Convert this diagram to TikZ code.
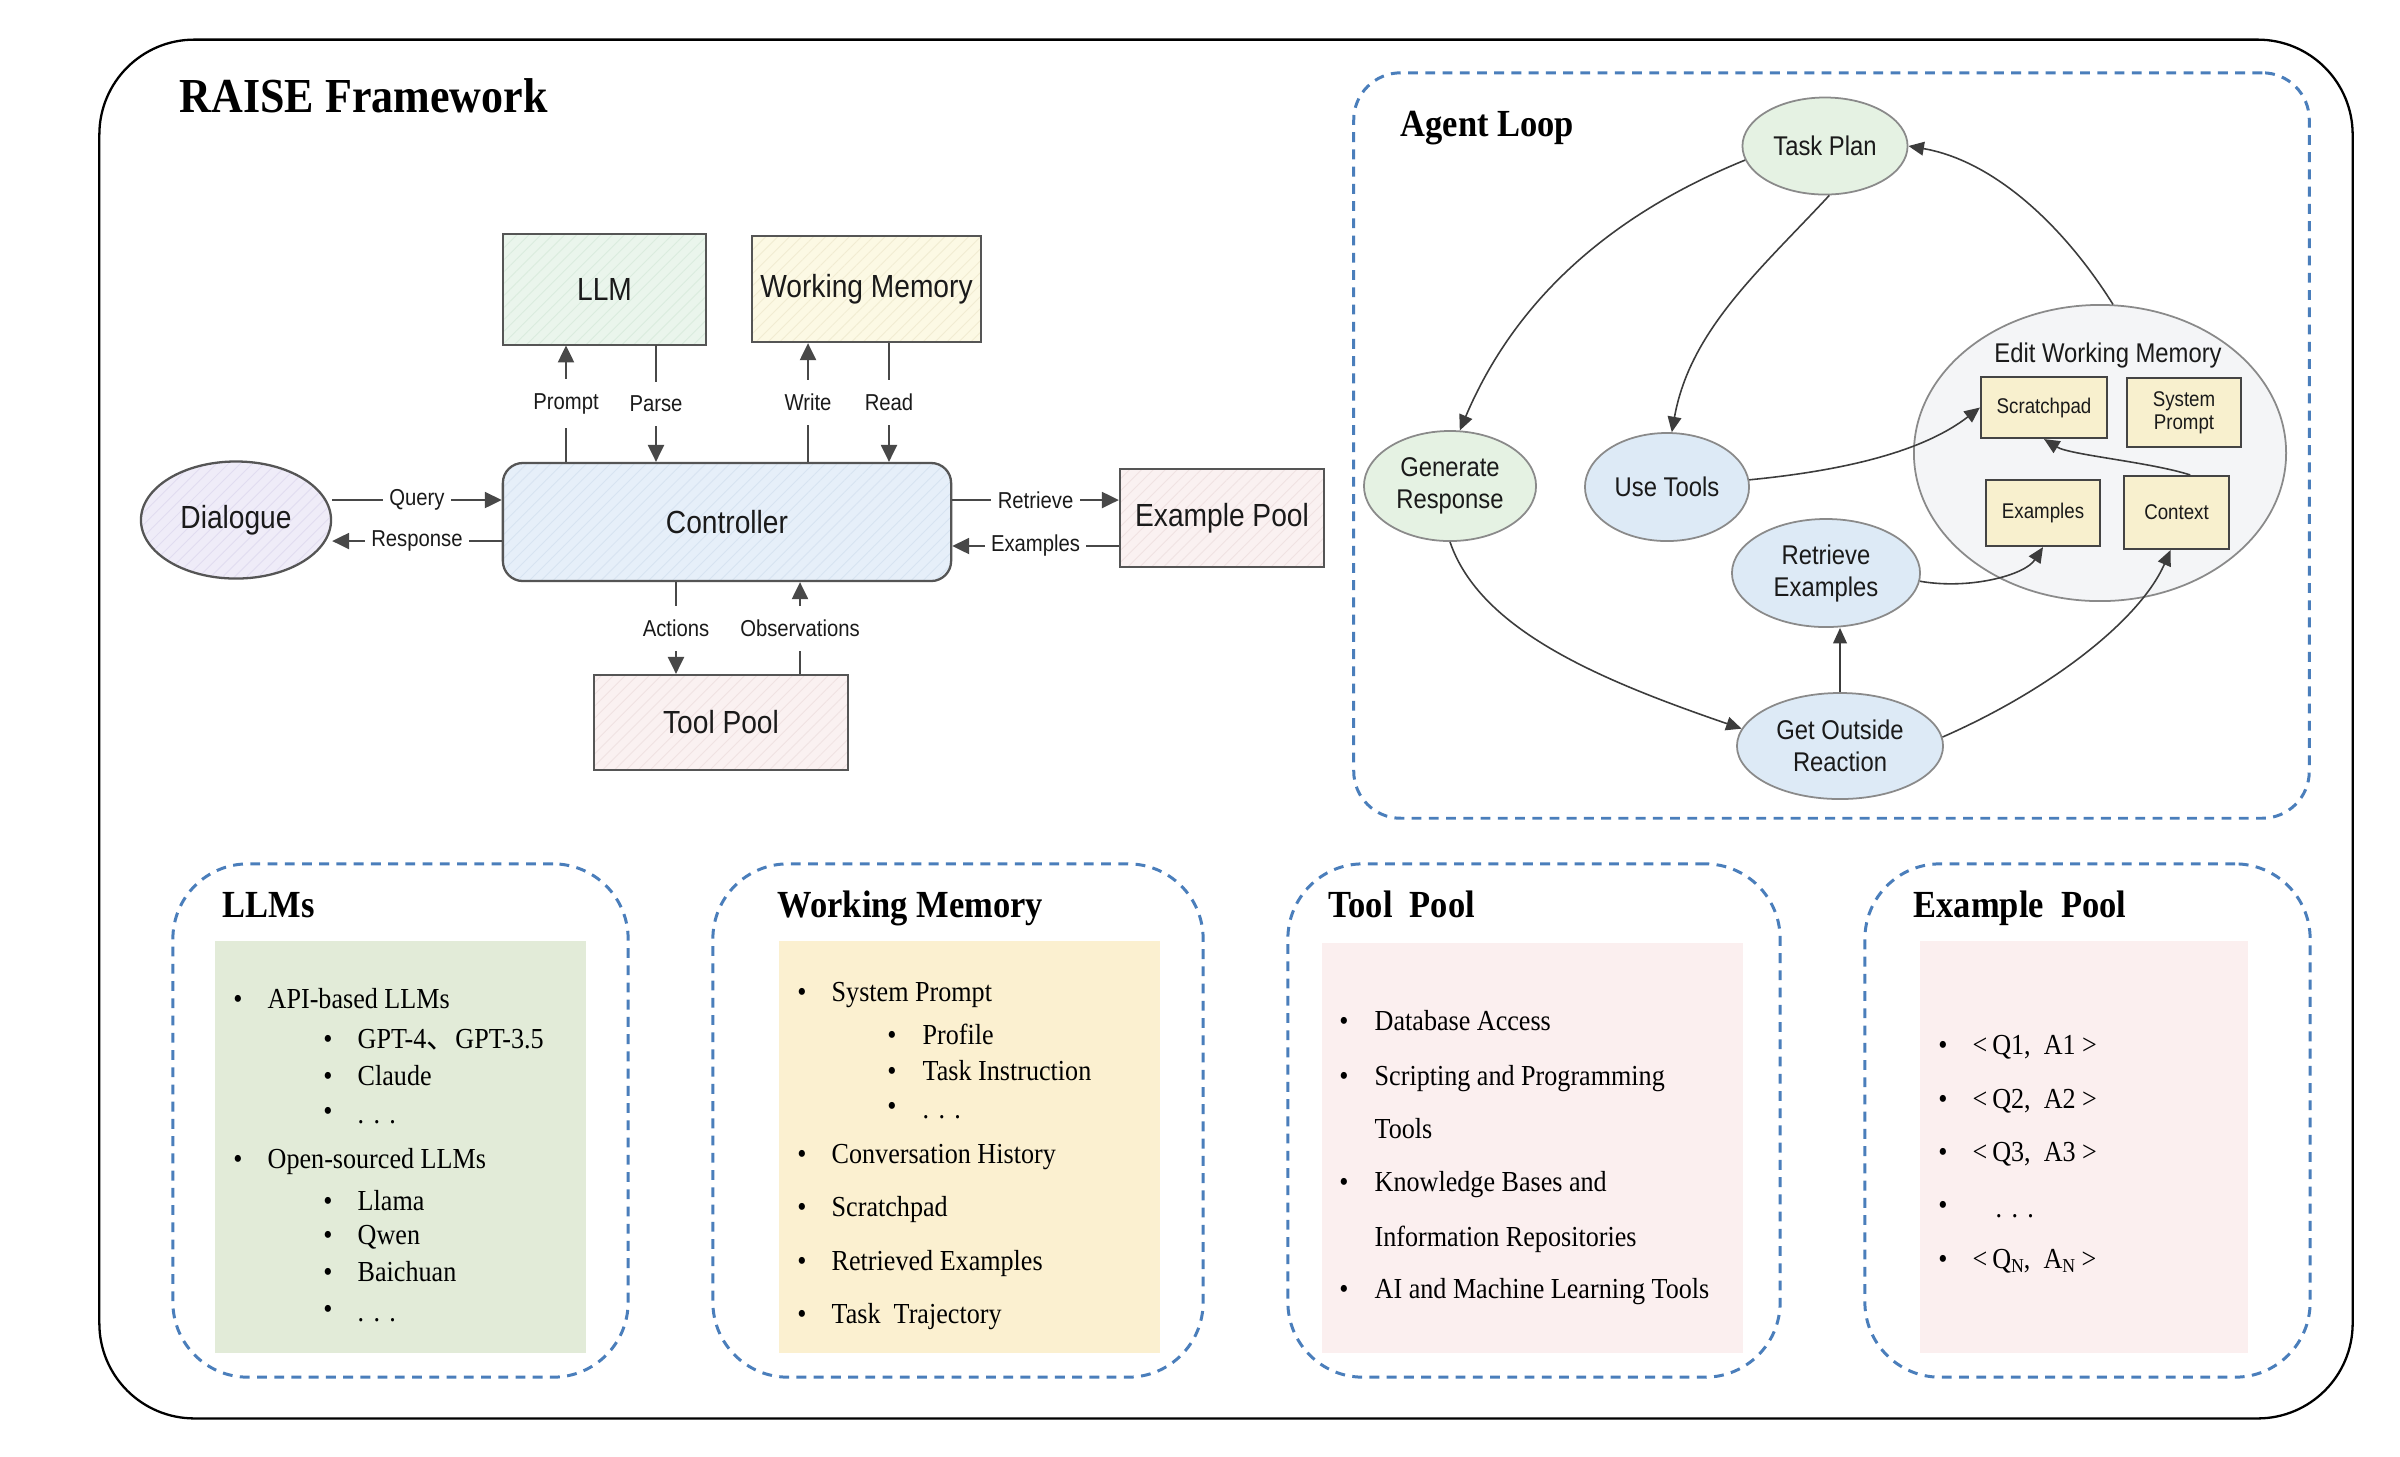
\documentclass[tikz,border=0pt]{standalone}
\usepackage{fontspec}
\setmainfont{Liberation Serif}[FakeStretch=0.9]
\newfontfamily\hv{Liberation Sans}[FakeStretch=0.88]
\newfontfamily\cjk{Noto Sans CJK SC}
\usetikzlibrary{arrows.meta,shapes.geometric,patterns.meta}

\definecolor{dashblue}{HTML}{4A7EBB}
\definecolor{pgreen}{HTML}{E2EBD8}
\definecolor{pyellow}{HTML}{FBF0D0}
\definecolor{ppink}{HTML}{FBEFEF}
\definecolor{llmf}{HTML}{EAF5EC}
\definecolor{llmh}{HTML}{DAECDE}
\definecolor{wmf}{HTML}{FCF9E4}
\definecolor{wmh}{HTML}{F1ECD2}
\definecolor{ctrlf}{HTML}{E6EFF9}
\definecolor{ctrlh}{HTML}{D7E3F1}
\definecolor{dlgf}{HTML}{EFECF8}
\definecolor{dlgh}{HTML}{E1DCF0}
\definecolor{epf}{HTML}{FAF1F1}
\definecolor{eph}{HTML}{F0E2E2}
\definecolor{boxline}{HTML}{555555}
\definecolor{txt}{HTML}{1A1A1A}
\definecolor{greenell}{HTML}{E5F2E3}
\definecolor{blueell}{HTML}{DDEAF6}
\definecolor{ewmf}{HTML}{F4F5F7}
\definecolor{innerf}{HTML}{F8F0CE}
\definecolor{ellline}{HTML}{8A8A8A}

\newcommand\setfs[2]{\fontsize{#1}{#2}\selectfont}
\newcommand\lowsub[1]{\raisebox{-0.35ex}{\fontsize{5.6}{6}\selectfont #1}}
\newcommand\dotsx{.\hspace{0.32em}.\hspace{0.32em}.}

\begin{document}
\begin{tikzpicture}[x=0.01cm,y=-0.01cm,
  mbox/.style 2 args={rectangle, draw=boxline, line width=0.65pt, preaction={fill=#1},
     pattern={Lines[angle=45,distance=2.4pt,line width=0.25pt]}, pattern color=#2,
     font=\hv\setfs{9.1}{11}, text=txt, inner sep=0pt},
  marr/.style={draw=txt!80, line width=0.4pt, -{Triangle[length=4.8pt,width=4.6pt]}},
  lab/.style={font=\hv\setfs{6.55}{8}, fill=white, inner xsep=1.8pt, inner ysep=4pt, text=txt},
  aell/.style={ellipse, draw=ellline, line width=0.5pt, font=\hv\setfs{7.7}{9.1}, align=center, text=txt, inner sep=0pt},
  ibox/.style={rectangle, draw=boxline!80!black, line width=0.6pt, fill=innerf, font=\hv\setfs{6.05}{6.6}, align=center, text=txt, inner sep=0pt},
  aarr/.style={draw=txt!85, line width=0.45pt, -{Triangle[length=4.4pt,width=3.9pt]}},
  panel/.style={rectangle, draw=dashblue, line width=0.85pt, dash pattern=on 2.8pt off 2.1pt, rounded corners=0.75cm, inner sep=0pt},
  pfill/.style={rectangle, inner sep=0pt, draw=none},
  ptitle/.style={font=\bfseries\setfs{10.9}{13}, anchor=base west, inner sep=0pt},
  body/.style={font=\setfs{8.25}{10}, anchor=base west, inner sep=0pt},
  bul/.style={font=\setfs{8.25}{10}, anchor=base, inner sep=0pt}
]
\useasboundingbox (0,0) rectangle (2400,1456);
\fill[white] (0,0) rectangle (2400,1456);

% outer frame
\node[rectangle, draw=black, line width=0.65pt, rounded corners=0.95cm, minimum width=22.52cm, minimum height=13.78cm, inner sep=0pt] (frame) at (1226,729) {};
\node[font=\bfseries\setfs{13.9}{16}, anchor=base west, inner sep=0pt] (title) at (179,112) {RAISE Framework};

% ---------- main diagram ----------
\node[mbox={llmf}{llmh}, minimum width=2.03cm, minimum height=1.11cm] (llm) at (604.5,289.5) {LLM};
\node[mbox={wmf}{wmh}, minimum width=2.29cm, minimum height=1.06cm] (wm) at (866.5,289) {Working Memory};
\node[mbox={dlgf}{dlgh}, ellipse, minimum width=1.90cm, minimum height=1.17cm] (dlg) at (236,520) {Dialogue};
\node[mbox={ctrlf}{ctrlh}, rounded corners=0.2cm, minimum width=4.48cm, minimum height=1.18cm] (ctrl) at (727,522) {Controller};
\node[mbox={epf}{eph}, minimum width=2.04cm, minimum height=0.98cm] (ep) at (1222,518) {Example Pool};
\node[mbox={epf}{eph}, minimum width=2.54cm, minimum height=0.95cm] (tool) at (721,722.5) {Tool Pool};

\coordinate (xP) at (566,0);
\coordinate (xPa) at (656,0);
\coordinate (xW) at (808,0);
\coordinate (xR) at (889,0);
\coordinate (xA) at (676,0);
\coordinate (xO) at (800,0);
\coordinate (yQ) at (0,500);
\coordinate (yRs) at (0,541);
\coordinate (yRt) at (0,500);
\coordinate (yEx) at (0,546);

\draw[marr] (ctrl.north -| xP) -- node[lab]{Prompt} (llm.south -| xP);
\draw[marr] (llm.south -| xPa) -- node[lab]{Parse} (ctrl.north -| xPa);
\draw[marr] (ctrl.north -| xW) -- node[lab]{Write} (wm.south -| xW);
\draw[marr] (wm.south -| xR) -- node[lab]{Read} (ctrl.north -| xR);
\draw[marr] (dlg.east |- yQ) -- node[lab]{Query} (ctrl.west |- yQ);
\draw[marr] (ctrl.west |- yRs) -- node[lab]{Response} (dlg.east |- yRs);
\draw[marr] (ctrl.east |- yRt) -- node[lab]{Retrieve} (ep.west |- yRt);
\draw[marr] (ep.west |- yEx) -- node[lab]{Examples} (ctrl.east |- yEx);
\draw[marr] (ctrl.south -| xA) -- node[lab]{Actions} (tool.north -| xA);
\draw[marr] (tool.north -| xO) -- node[lab]{Observations} (ctrl.south -| xO);

% ---------- agent loop ----------
\node[panel, rounded corners=0.47cm, minimum width=9.55cm, minimum height=7.45cm] (alp) at (1831.5,445.5) {};
\node[font=\bfseries\setfs{10.9}{13}, anchor=base west, inner sep=0pt] (altitle) at (1400,136) {Agent Loop};

\node[aell, fill=greenell, minimum width=1.65cm, minimum height=0.97cm] (tp) at (1825,146) {Task Plan};
\node[aell, fill=greenell, minimum width=1.72cm, minimum height=1.10cm] (gr) at (1450,486) {Generate\\Response};
\node[aell, fill=blueell, minimum width=1.64cm, minimum height=1.08cm] (ut) at (1667,487) {Use Tools};
\node[aell, fill=blueell, minimum width=1.88cm, minimum height=1.08cm] (re) at (1826,573) {Retrieve\\Examples};
\node[aell, fill=blueell, minimum width=2.06cm, minimum height=1.06cm] (go) at (1840,746) {Get Outside\\Reaction};
\node[ellipse, draw=ellline, fill=ewmf, line width=0.5pt, minimum width=3.72cm, minimum height=2.96cm, inner sep=0pt] (ewm) at (2100,453) {};
\node[font=\hv\setfs{7.7}{9}, text=txt, inner sep=0pt] (ewml) at (2108,355) {Edit Working Memory};
\node[ibox, minimum width=1.26cm, minimum height=0.61cm] (sp) at (2044,407.5) {Scratchpad};
\node[ibox, minimum width=1.14cm, minimum height=0.69cm] (sys) at (2184,412.5) {System\\Prompt};
\node[ibox, minimum width=1.14cm, minimum height=0.66cm] (ex) at (2043,513) {Examples};
\node[ibox, minimum width=1.05cm, minimum height=0.73cm] (ctx) at (2176.5,512.5) {Context};

\draw[aarr] (tp.190) .. controls (1610,215) and (1515,300) .. (gr.80);
\draw[aarr] (tp.275) .. controls (1760,270) and (1690,330) .. (ut.85);
\draw[aarr] (ewm.85) .. controls (2060,220) and (1990,160) .. (tp.east);
\draw[aarr] (ut.5) .. controls (1850,470) and (1925,450) .. (sp.west);
\draw[aarr] (ctx.70) .. controls (2150,462) and (2070,455) .. (sp.south);
\draw[aarr] (re.355) .. controls (1970,590) and (2025,575) .. (ex.south);
\draw[aarr] (gr.south) .. controls (1480,630) and (1600,680) .. (go.170);
\draw[aarr] (go.north) -- (go.north |- re.south);
\draw[aarr] (go.5) .. controls (2050,690) and (2140,620) .. ([xshift=-0.06cm]ctx.south);

% ---------- bottom panels ----------
\node[panel, minimum width=4.55cm, minimum height=5.13cm] (pl) at (400.5,1120.5) {};
\node[panel, minimum width=4.90cm, minimum height=5.13cm] (pw) at (958,1120.5) {};
\node[panel, minimum width=4.92cm, minimum height=5.13cm] (pt) at (1534,1120.5) {};
\node[panel, minimum width=4.45cm, minimum height=5.13cm] (pe) at (2087.5,1120.5) {};

\node[pfill, fill=pgreen, minimum width=3.71cm, minimum height=4.12cm] (fl) at (400.5,1147) {};
\node[pfill, fill=pyellow, minimum width=3.81cm, minimum height=4.12cm] (fw) at (969.5,1147) {};
\node[pfill, fill=ppink, minimum width=4.21cm, minimum height=4.10cm] (ft) at (1532.5,1148) {};
\node[pfill, fill=ppink, minimum width=3.28cm, minimum height=4.12cm] (fe) at (2084,1147) {};

\node[ptitle] (tl) at (222,917) {LLMs};
\node[ptitle] (tw) at (777,917) {Working Memory};
\node[ptitle] (tt) at (1328,917) {Tool\ \ Pool};
\node[ptitle] (te) at (1913,917) {Example\ \ Pool};

% LLMs
\node[bul] (lb1) at (238,1008) {\textbullet}; \node[body] (l1) at (267,1008) {API-based LLMs};
\node[bul] (lb2) at (328,1048) {\textbullet}; \node[body] (l2) at (357,1048) {GPT-4{\cjk 、}GPT-3.5};
\node[bul] (lb3) at (328,1085) {\textbullet}; \node[body] (l3) at (357,1085) {Claude};
\node[bul] (lb4) at (328,1120) {\textbullet}; \node[body] (l4) at (357,1123) {\dotsx};
\node[bul] (lb5) at (238,1168) {\textbullet}; \node[body] (l5) at (267,1168) {Open-sourced LLMs};
\node[bul] (lb6) at (328,1210) {\textbullet}; \node[body] (l6) at (357,1210) {Llama};
\node[bul] (lb7) at (328,1244) {\textbullet}; \node[body] (l7) at (357,1244) {Qwen};
\node[bul] (lb8) at (328,1281) {\textbullet}; \node[body] (l8) at (357,1281) {Baichuan};
\node[bul] (lb9) at (328,1318) {\textbullet}; \node[body] (l9) at (357,1321) {\dotsx};

% Working memory
\node[bul] (wb1) at (802,1001) {\textbullet}; \node[body] (w1) at (831,1001) {System Prompt};
\node[bul] (wb2) at (892,1044) {\textbullet}; \node[body] (w2) at (922,1044) {Profile};
\node[bul] (wb3) at (892,1080) {\textbullet}; \node[body] (w3) at (922,1080) {Task Instruction};
\node[bul] (wb4) at (892,1115) {\textbullet}; \node[body] (w4) at (922,1118) {\dotsx};
\node[bul] (wb5) at (802,1163) {\textbullet}; \node[body] (w5) at (831,1163) {Conversation History};
\node[bul] (wb6) at (802,1216) {\textbullet}; \node[body] (w6) at (831,1216) {Scratchpad};
\node[bul] (wb7) at (802,1270) {\textbullet}; \node[body] (w7) at (831,1270) {Retrieved Examples};
\node[bul] (wb8) at (802,1323) {\textbullet}; \node[body] (w8) at (831,1323) {Task\ \ Trajectory};

% Tool pool
\node[bul] (tb1) at (1344,1030) {\textbullet}; \node[body] (t1) at (1374,1030) {Database Access};
\node[bul] (tb2) at (1344,1085) {\textbullet}; \node[body] (t2) at (1374,1085) {Scripting and Programming};
\node[body] (t2b) at (1374,1138) {Tools};
\node[bul] (tb3) at (1344,1191) {\textbullet}; \node[body] (t3) at (1374,1191) {Knowledge Bases and};
\node[body] (t3b) at (1374,1246) {Information Repositories};
\node[bul] (tb4) at (1344,1298) {\textbullet}; \node[body] (t4) at (1374,1298) {AI and Machine Learning Tools};

% Example pool
\node[bul] (eb1) at (1943,1054) {\textbullet}; \node[body] (e1) at (1972,1054) {<\,Q1,\ \ A1\ >};
\node[bul] (eb2) at (1943,1108) {\textbullet}; \node[body] (e2) at (1972,1108) {<\,Q2,\ \ A2\ >};
\node[bul] (eb3) at (1943,1161) {\textbullet}; \node[body] (e3) at (1972,1161) {<\,Q3,\ \ A3\ >};
\node[bul] (eb4) at (1943,1214) {\textbullet}; \node[body] (e4) at (1995,1217) {\dotsx};
\node[bul] (eb5) at (1943,1268) {\textbullet}; \node[body] (e5) at (1972,1268) {<\,Q\lowsub{N},\ \ A\lowsub{N}\ >};

\end{tikzpicture}
\end{document}
